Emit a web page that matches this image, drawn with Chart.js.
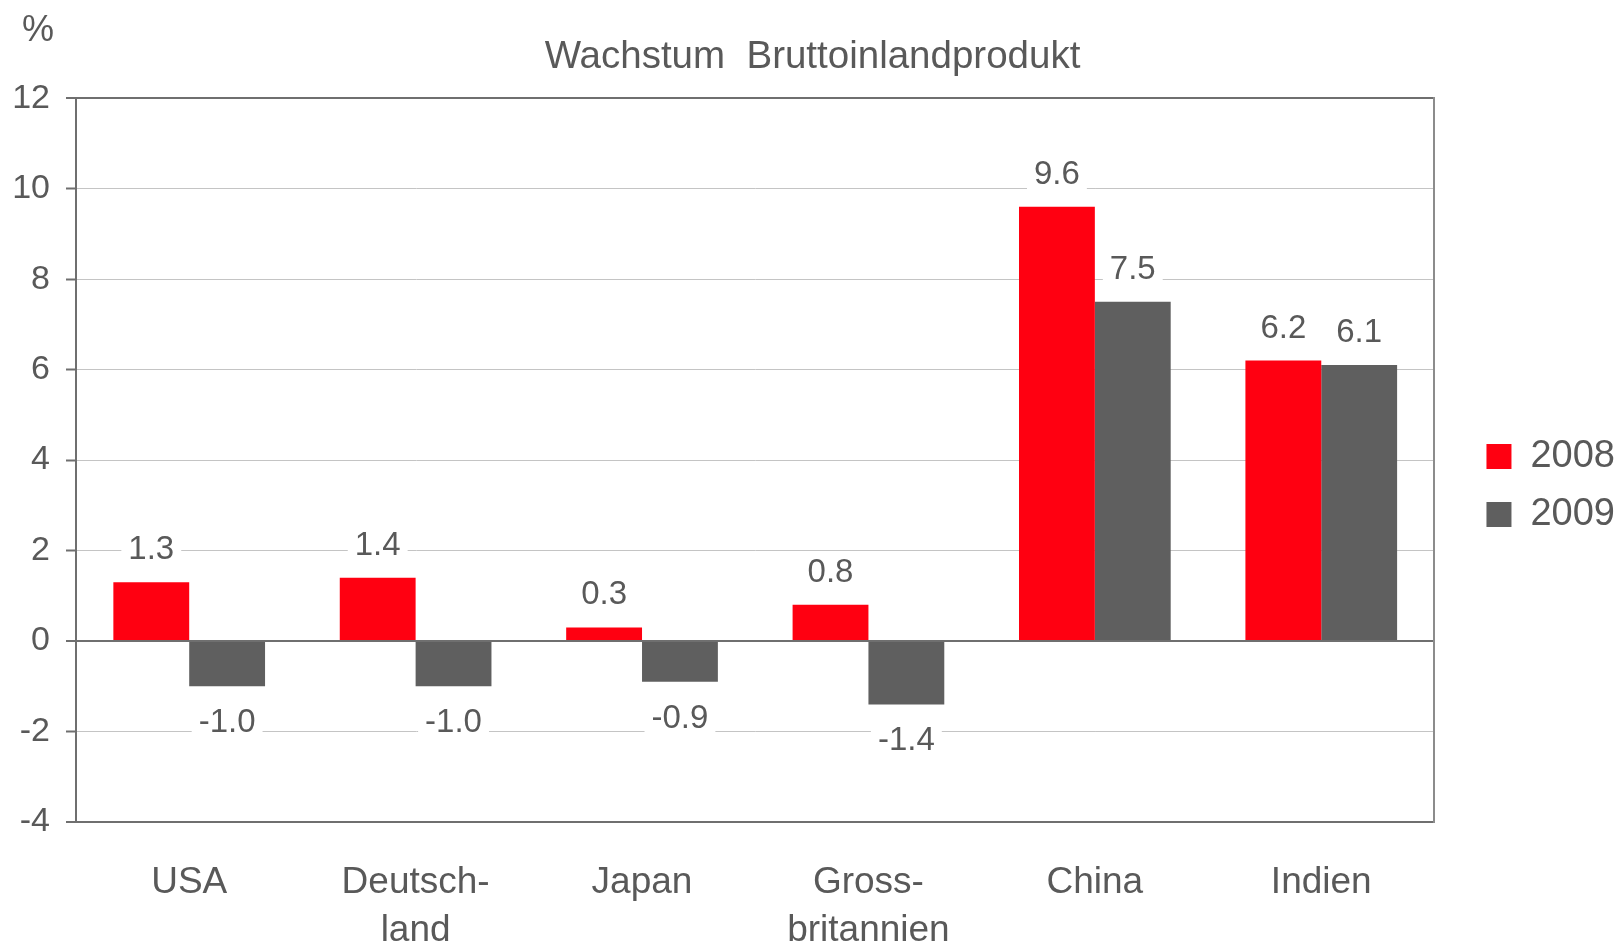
<!DOCTYPE html>
<html>
<head>
<meta charset="utf-8">
<script src="https://cdn.jsdelivr.net/npm/chart.js@4.4.1/dist/chart.umd.min.js"></script>
<style>
  html, body { margin: 0; padding: 0; background: #fff; }
  #box { width: 1620px; height: 943px; position: relative; }
</style>
</head>
<body>
<div id="box"><canvas id="grafico"></canvas></div>
<script>
// Daten
const laender = ['USA', ['Deutsch-', 'land'], 'Japan', ['Gross-', 'britannien'], 'China', 'Indien'];
const werte2008 = [1.3, 1.4, 0.3, 0.8, 9.6, 6.2];
const werte2009 = [-1.0, -1.0, -0.9, -1.4, 7.5, 6.1];
const jahre = ['2008', '2009'];
const yMin = -4, yMax = 12, yStep = 2;

const textFarbe = '#595959';
const dunkel = '#6f6f6f';
const hell = '#c4c4c4';

Chart.defaults.font.family = "'Liberation Sans', Arial, sans-serif";
Chart.defaults.color = textFarbe;

// Beschriftung der Balken mit weissem Hintergrund
const etiketten = {
  id: 'etiketten',
  afterDatasetsDraw(chart) {
    const ctx = chart.ctx;
    ctx.save();
    ctx.font = "33px 'Liberation Sans', Arial, sans-serif";
    ctx.textAlign = 'center';
    ctx.textBaseline = 'alphabetic';
    chart.data.datasets.forEach((ds, i) => {
      chart.getDatasetMeta(i).data.forEach((bar, j) => {
        const v = ds.data[j];
        const txt = v.toFixed(1);
        const w = ctx.measureText(txt).width;
        const y = v >= 0 ? bar.y - 23 : bar.y + 46;
        ctx.fillStyle = '#fff';
        ctx.fillRect(bar.x - w / 2 - 7, y - 29, w + 14, 36);
        ctx.fillStyle = textFarbe;
        ctx.fillText(txt, bar.x, y);
      });
    });
    ctx.restore();
  }
};

// Prozentzeichen oben links
const prozent = {
  id: 'prozent',
  afterDraw(chart) {
    const ctx = chart.ctx;
    ctx.save();
    ctx.font = "36px 'Liberation Sans', Arial, sans-serif";
    ctx.fillStyle = textFarbe;
    ctx.textAlign = 'left';
    ctx.textBaseline = 'alphabetic';
    ctx.fillText('%', 22, 41);
    ctx.restore();
  }
};

new Chart(document.getElementById('grafico'), {
  type: 'bar',
  data: {
    labels: laender,
    datasets: [
      { label: jahre[0], data: werte2008, backgroundColor: '#ff0011', borderWidth: 0 },
      { label: jahre[1], data: werte2009, backgroundColor: '#5f5f5f', borderWidth: 0 }
    ]
  },
  options: {
    responsive: true,
    maintainAspectRatio: false,
    animation: false,
    layout: { padding: { top: 28, left: 0, right: -5, bottom: 0 } },
    datasets: { bar: { categoryPercentage: 0.67, barPercentage: 1.0 } },
    plugins: {
      title: {
        display: true,
        text: 'Wachstum  Bruttoinlandprodukt',
        color: textFarbe,
        font: { size: 38.5, weight: 'normal' },
        padding: { top: 6, bottom: 18 }
      },
      legend: {
        position: 'right',
        labels: {
          boxWidth: 25,
          boxHeight: 25,
          padding: 20,
          color: textFarbe,
          font: { size: 38 }
        }
      },
      tooltip: { enabled: false }
    },
    scales: {
      x: {
        grid: { display: false },
        border: { display: false },
        ticks: {
          color: textFarbe,
          font: { size: 37, lineHeight: 1.3 },
          padding: 29,
          maxRotation: 0,
          autoSkip: false
        },
        afterFit: s => { s.height = 121; }
      },
      y: {
        min: yMin,
        max: yMax,
        ticks: {
          stepSize: yStep,
          color: textFarbe,
          font: { size: 34 },
          padding: 16
        },
        grid: {
          color: c => (c.tick.value === 0 || c.tick.value === yMin || c.tick.value === yMax) ? dunkel : hell,
          lineWidth: c => (c.tick.value === 0 || c.tick.value === yMin || c.tick.value === yMax) ? 2 : 1,
          tickColor: dunkel,
          tickWidth: 2,
          tickLength: 10
        },
        border: { color: dunkel, width: 2 },
        afterFit: s => { s.width = 76; }
      },
      y2: {
        position: 'right',
        min: yMin,
        max: yMax,
        grid: { display: false },
        ticks: { display: false },
        border: { display: true, color: '#8c8c8c', width: 2 },
        afterFit: s => { s.width = 32; }
      }
    }
  },
  plugins: [etiketten, prozent]
});
</script>
</body>
</html>
